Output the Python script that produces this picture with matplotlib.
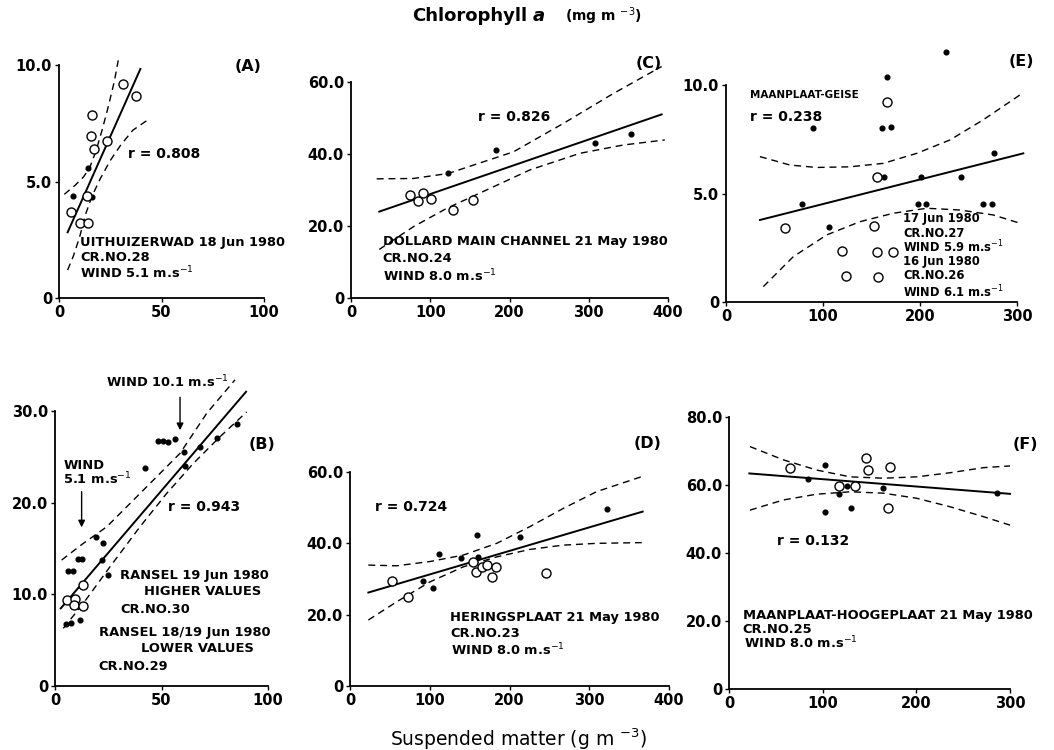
import numpy as np
import matplotlib
matplotlib.use("Agg")
import matplotlib.pyplot as plt
from matplotlib.ticker import FuncFormatter

W, H = 1054, 750

# ---------------- data ----------------
# (A) Uithuizerwad
a_open_x = [31.4, 37.4, 16.1, 15.6, 17.1, 23.6, 13.5, 6.0, 10.2, 14.0]
a_open_y = [9.18, 8.67, 7.84, 6.95, 6.38, 6.74, 4.39, 3.70, 3.20, 3.20]
a_fill_x = [6.7, 14.3, 15.9]
a_fill_y = [4.39, 5.57, 4.35]
a_fit_x = [4.2, 39.7]
a_fit_y = [2.82, 9.83]
a_up_x = [2.6, 8, 12, 15, 18, 21, 24, 27, 28.9]
a_up_y = [4.45, 4.85, 5.2, 5.6, 6.3, 7.2, 8.2, 9.3, 10.2]
a_lo_x = [4.2, 7, 10, 13, 16, 20, 25, 30, 36, 44.4]
a_lo_y = [1.2, 1.8, 2.6, 3.6, 4.35, 5.1, 5.9, 6.55, 7.2, 7.71]

# (B) Ransel
b_open_x = [5.5, 9.4, 8.9, 13.3, 13.0]
b_open_y = [9.38, 9.45, 8.83, 8.72, 11.0]
b_fill_x = [85.6, 75.9, 68.1, 60.7, 61.0, 56.3, 53.2, 50.8, 48.5, 42.3,
            21.9, 22.4, 19.2, 25.0, 10.9, 12.5, 6.2, 8.3, 5.2, 7.5, 11.7]
b_fill_y = [28.57, 27.1, 26.1, 25.55, 23.99, 26.9, 26.6, 26.7, 26.7, 23.8,
            13.74, 15.56, 16.28, 12.1, 13.85, 13.85, 12.57, 12.57, 6.76, 6.9, 7.2]
b_fit_x = [2.7, 89.7]
b_fit_y = [8.47, 32.1]
b_up_x = [3.1, 13.3, 24.3, 36.8, 47.7, 58.7, 71.2, 84.5]
b_up_y = [13.74, 15.56, 17.37, 20.28, 22.82, 25.38, 29.74, 33.4]
b_lo_x = [3.9, 13.3, 25.8, 39.9, 52.4, 64.9, 77.5, 90]
b_lo_y = [6.29, 9.02, 13.0, 17.37, 21.0, 24.27, 27.2, 29.9]

# (C) Dollard main channel
c_open_x = [74.4, 90.5, 84.2, 101.4, 129.1, 154.3]
c_open_y = [28.6, 29.1, 26.9, 27.6, 24.4, 27.1]
c_fill_x = [122.8, 183, 308.3, 353.3]
c_fill_y = [34.6, 41.1, 43.1, 45.6]
c_fit_x = [35.7, 392]
c_fit_y = [24.0, 51.0]
c_up_x = [32.4, 78.7, 122.8, 154.3, 205, 268, 331, 392]
c_up_y = [33.1, 33.2, 34.6, 36.9, 40.6, 48.5, 56.8, 64.3]
c_lo_x = [35.7, 78.7, 120.7, 171, 226, 289, 343.6, 396]
c_lo_y = [13.5, 19.8, 24.9, 30.0, 35.6, 40.2, 42.5, 43.9]

# (D) Heringsplaat
d_open_x = [52.3, 72.3, 153.8, 158, 165.1, 172.2, 182.7, 177.6, 245.8]
d_open_y = [29.5, 25.0, 34.9, 32.0, 33.4, 33.9, 33.4, 30.5, 31.8]
d_fill_x = [322.6, 158.9, 213.2, 111.6, 138.8, 160.1, 91.1, 103.7]
d_fill_y = [49.5, 42.3, 41.9, 37.0, 35.8, 36.1, 29.5, 27.4]
d_fit_x = [23, 367]
d_fit_y = [26.2, 48.9]
d_up_x = [23, 58.5, 100.3, 142, 184, 225.7, 267.5, 309.3, 365.8]
d_up_y = [33.9, 33.7, 34.9, 36.7, 40.0, 44.7, 49.8, 54.5, 58.7]
d_lo_x = [23, 58.5, 100.3, 142, 184, 225.7, 267.5, 309.3, 365.8]
d_lo_y = [18.5, 23.6, 29.2, 33.4, 36.2, 38.3, 39.5, 40.0, 40.2]

# (E) Maanplaat-Geise
e_open_x = [165.6, 155.3, 60.8, 152.9, 119.3, 155.3, 171.8, 123.7, 156.4]
e_open_y = [9.23, 5.75, 3.42, 3.49, 2.33, 2.29, 2.29, 1.20, 1.17]
e_fill_x = [226.5, 166.3, 90, 161.1, 169.8, 163.2, 201.3, 242, 276.3,
            78.7, 105.9, 198.3, 205.9, 264.6, 274.5]
e_fill_y = [11.53, 10.38, 8.0, 8.03, 8.08, 5.77, 5.75, 5.77, 6.85,
            4.53, 3.47, 4.53, 4.53, 4.53, 4.53]
e_fit_x = [35, 306.5]
e_fit_y = [3.78, 6.85]
e_up_x = [35, 66, 93.5, 127.8, 162.2, 196.6, 231, 265, 303]
e_up_y = [6.70, 6.31, 6.2, 6.23, 6.39, 6.85, 7.47, 8.39, 9.54]
e_lo_x = [38.5, 69.4, 103.8, 138, 172.5, 206.9, 241.2, 275.6, 303]
e_lo_y = [0.71, 2.09, 3.09, 3.7, 4.09, 4.32, 4.24, 4.01, 3.63]

# (F) Maanplaat-Hoogeplaat
f_open_x = [65.1, 146.3, 148.7, 171.9, 117.8, 134.5, 170.1]
f_open_y = [65.1, 67.8, 64.4, 65.4, 59.7, 59.7, 53.3]
f_fill_x = [102.5, 84, 125.7, 117.8, 164.1, 285.8, 102.5, 129.9]
f_fill_y = [65.9, 61.8, 59.8, 57.3, 59.2, 57.7, 52.1, 53.1]
f_fit_x = [21.7, 300]
f_fit_y = [63.4, 57.4]
f_up_x = [22.4, 58, 93.6, 129.2, 164.7, 200.4, 236, 271.5, 300]
f_up_y = [71.3, 67.4, 64.4, 62.4, 62.0, 62.4, 63.6, 65.1, 65.6]
f_lo_x = [22.4, 58, 93.6, 129.2, 164.7, 200.4, 236, 271.5, 300]
f_lo_y = [52.6, 55.6, 57.3, 58.0, 57.6, 56.1, 53.6, 50.7, 48.2]

# ---------------- figure ----------------
fig = plt.figure(figsize=(W / 100, H / 100), dpi=100)


def make_ax(l, r, b, t, xmax, ymax, xticks, yticks):
    ax = fig.add_axes([l / W, 1 - b / H, (r - l) / W, (b - t) / H])
    ax.set_xlim(0, xmax)
    ax.set_ylim(0, ymax)
    ax.set_facecolor("none")
    for s in ["top", "right"]:
        ax.spines[s].set_visible(False)
    for s in ["left", "bottom"]:
        ax.spines[s].set_linewidth(1.3)
    ax.set_xticks(xticks)
    ax.set_yticks(yticks)
    ax.yaxis.set_major_formatter(FuncFormatter(lambda v, p: "0" if v == 0 else "%.1f" % v))
    ax.xaxis.set_major_formatter(FuncFormatter(lambda v, p: "%d" % v))
    ax.tick_params(direction="out", length=3, width=1, labelsize=10.5, pad=2)
    for t in ax.get_xticklabels() + ax.get_yticklabels():
        t.set_fontweight("bold")
    return ax


def draw(ax, ox, oy, fx, fy, lx, ly, ux, uy, lox, loy):
    ax.plot(ux, uy, color="black", lw=1.0, ls=(0, (5, 3.5)), clip_on=False)
    ax.plot(lox, loy, color="black", lw=1.0, ls=(0, (5, 3.5)), clip_on=False)
    ax.plot(lx, ly, color="black", lw=1.4, clip_on=False)
    ax.plot(fx, fy, "o", ms=3.4, color="black", clip_on=False, zorder=4)
    ax.plot(ox, oy, "o", ms=6.5, mfc="white", mec="black", mew=1.0, clip_on=False, zorder=5)


tk = dict(fontweight="bold", fontsize=9.4, color="black", va="center")
lab = dict(fontweight="bold", fontsize=11.5, color="black", va="center", ha="center")
rk = dict(fontweight="bold", fontsize=10, color="black", va="center")

# (A)
ax = make_ax(59, 264, 298, 65, 100, 10, [0, 50, 100], [0, 5, 10])
draw(ax, a_open_x, a_open_y, a_fill_x, a_fill_y, a_fit_x, a_fit_y, a_up_x, a_up_y, a_lo_x, a_lo_y)
ax.text(92.4, 9.93, "(A)", **lab)
ax.text(33.8, 6.18, "r = 0.808", **rk)
ax.text(10.2, 2.38, "UITHUIZERWAD 18 Jun 1980", **tk)
ax.text(10.2, 1.72, "CR.NO.28", **tk)
ax.text(10.2, 1.06, r"WIND 5.1 m.s$^{-1}$", **tk)

# (C)
ax = make_ax(351, 668, 298, 82, 400, 60, [0, 100, 200, 300, 400], [0, 20, 40, 60])
draw(ax, c_open_x, c_open_y, c_fill_x, c_fill_y, c_fit_x, c_fit_y, c_up_x, c_up_y, c_lo_x, c_lo_y)
ax.text(376, 65.2, "(C)", **lab)
ax.text(160, 50.3, "r = 0.826", **rk)
ax.text(40, 15.6, "DOLLARD MAIN CHANNEL 21 May 1980", **tk)
ax.text(40, 10.9, "CR.NO.24", **tk)
ax.text(40, 6.2, r"WIND 8.0 m.s$^{-1}$", **tk)

# (E)
ax = make_ax(726, 1017, 302, 85, 300, 10, [0, 100, 200, 300], [0, 5, 10])
draw(ax, e_open_x, e_open_y, e_fill_x, e_fill_y, e_fit_x, e_fit_y, e_up_x, e_up_y, e_lo_x, e_lo_y)
ax.text(304, 11.07, "(E)", **lab)
ax.text(24.7, 9.54, "MAANPLAAT-GEISE", fontweight="bold", fontsize=7.5, va="center")
ax.text(24.7, 8.54, "r = 0.238", **rk)
sk = dict(fontweight="bold", fontsize=8.3, color="black", va="center")
ax.text(182.8, 3.86, "17 Jun 1980", **sk)
ax.text(182.8, 3.17, "CR.NO.27", **sk)
ax.text(182.8, 2.55, r"WIND 5.9 m.s$^{-1}$", **sk)
ax.text(182.8, 1.86, "16 Jun 1980", **sk)
ax.text(182.8, 1.21, "CR.NO.26", **sk)
ax.text(182.8, 0.48, r"WIND 6.1 m.s$^{-1}$", **sk)

# (B)
ax = make_ax(55, 268, 686, 411, 100, 30, [0, 50, 100], [0, 10, 20, 30])
draw(ax, b_open_x, b_open_y, b_fill_x, b_fill_y, b_fit_x, b_fit_y, b_up_x, b_up_y, b_lo_x, b_lo_y)
ax.text(97, 26.3, "(B)", **lab)
ax.text(53.2, 19.5, "r = 0.943", **rk)
ax.text(24, 33.2, r"WIND 10.1 m.s$^{-1}$", **tk)
ax.annotate("", xy=(58.7, 27.6), xytext=(58.7, 31.8),
            arrowprops=dict(arrowstyle="-|>", color="black", lw=1.0, mutation_scale=10))
ax.text(3.9, 24.1, "WIND", **tk)
ax.text(3.9, 22.6, r"5.1 m.s$^{-1}$", **tk)
ax.annotate("", xy=(12.5, 17.0), xytext=(12.5, 21.5),
            arrowprops=dict(arrowstyle="-|>", color="black", lw=1.0, mutation_scale=10))
ax.text(30.5, 12.0, "RANSEL 19 Jun 1980", **tk)
ax.text(41.9, 10.3, "HIGHER VALUES", **tk)
ax.text(30.5, 8.3, "CR.NO.30", **tk)
ax.text(20.8, 5.8, "RANSEL 18/19 Jun 1980", **tk)
ax.text(40.2, 4.1, "LOWER VALUES", **tk)
ax.text(20.3, 2.18, "CR.NO.29", **tk)

# (D)
ax = make_ax(350, 669, 686, 472, 400, 60, [0, 100, 200, 300, 400], [0, 20, 40, 60])
draw(ax, d_open_x, d_open_y, d_fill_x, d_fill_y, d_fit_x, d_fit_y, d_up_x, d_up_y, d_lo_x, d_lo_y)
ax.text(373.7, 68, "(D)", **lab)
ax.text(31.3, 50.1, "r = 0.724", **rk)
ax.text(125.4, 19.2, "HERINGSPLAAT 21 May 1980", **tk)
ax.text(125.4, 14.6, "CR.NO.23", **tk)
ax.text(127, 10.0, r"WIND 8.0 m.s$^{-1}$", **tk)

# (F)
ax = make_ax(729, 1010, 689, 417, 300, 80, [0, 100, 200, 300], [0, 20, 40, 60, 80])
draw(ax, f_open_x, f_open_y, f_fill_x, f_fill_y, f_fit_x, f_fit_y, f_up_x, f_up_y, f_lo_x, f_lo_y)
ax.text(316, 71.8, "(F)", **lab)
ax.text(50.9, 43.6, "r = 0.132", **rk)
ax.text(14.5, 21.6, "MAANPLAAT-HOOGEPLAAT 21 May 1980", **tk)
ax.text(14.5, 17.6, "CR.NO.25", **tk)
ax.text(15.5, 13.6, r"WIND 8.0 m.s$^{-1}$", **tk)

# titles
fig.text(527 / W, 1 - 16 / H, "Chlorophyll", fontsize=13, fontweight="bold", va="center", ha="right")
fig.text(533 / W, 1 - 16 / H, "a", fontsize=13, style="italic", fontweight="bold", va="center", ha="left")
fig.text(565 / W, 1 - 16 / H, r"(mg m $^{-3}$)", fontsize=10, fontweight="bold", va="center", ha="left")
fig.text(518 / W, 1 - 739 / H, r"Suspended matter (g m $^{-3}$)", fontsize=13.5, va="center", ha="center")

fig.savefig("out.png", dpi=100)
